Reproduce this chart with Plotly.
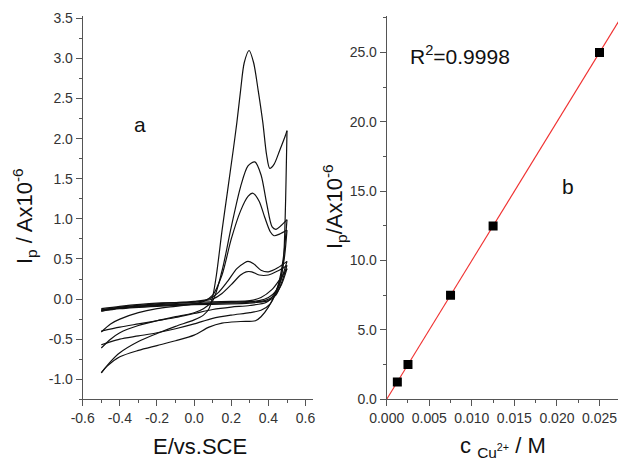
import numpy as np
import plotly.graph_objects as go

# ---------------- Panel a: cyclic voltammograms (E / V, I / uA) ----------------
loop1_fwd = [(-0.5, -0.92), (-0.45, -0.78), (-0.4, -0.67), (-0.3, -0.53), (-0.2, -0.43), (-0.1, -0.34),
             (0.0, -0.26), (0.05, -0.2), (0.08, -0.12), (0.1, 0.03), (0.12, 0.3), (0.15, 0.85), (0.18, 1.35),
             (0.21, 1.85), (0.23, 2.2), (0.25, 2.6), (0.27, 2.95), (0.296, 3.1), (0.32, 2.95), (0.345, 2.6),
             (0.37, 2.2), (0.39, 1.8), (0.407, 1.63), (0.43, 1.68), (0.46, 1.85), (0.49, 2.03), (0.5, 2.1)]
loop1_rev = [(0.5, 2.1), (0.495, 1.5), (0.49, 1.0), (0.48, 0.45), (0.46, 0.18), (0.434, 0.05), (0.4, -0.1),
             (0.36, -0.22), (0.33, -0.27), (0.25, -0.28), (0.15, -0.3), (0.08, -0.35), (0.0, -0.45),
             (-0.1, -0.52), (-0.2, -0.58), (-0.3, -0.64), (-0.4, -0.72), (-0.47, -0.84), (-0.5, -0.92)]

loop2_fwd = [(-0.5, -0.61), (-0.45, -0.5), (-0.4, -0.42), (-0.3, -0.33), (-0.2, -0.27), (-0.1, -0.22),
             (0.0, -0.17), (0.05, -0.12), (0.1, -0.02), (0.15, 0.35), (0.2, 0.9), (0.25, 1.4), (0.29, 1.66),
             (0.327, 1.71), (0.36, 1.55), (0.39, 1.2), (0.42, 0.9), (0.44, 0.87), (0.47, 0.92), (0.5, 0.99)]
loop2_rev = [(0.5, 0.99), (0.485, 0.6), (0.465, 0.3), (0.44, 0.08), (0.41, -0.06), (0.36, -0.14),
             (0.3, -0.17), (0.2, -0.2), (0.1, -0.24), (0.0, -0.31), (-0.1, -0.37), (-0.2, -0.42),
             (-0.3, -0.46), (-0.4, -0.5), (-0.46, -0.54), (-0.5, -0.57)]

loop3_fwd = [(-0.5, -0.41), (-0.45, -0.31), (-0.4, -0.25), (-0.3, -0.17), (-0.2, -0.12), (-0.1, -0.09),
             (0.0, -0.06), (0.05, -0.03), (0.1, 0.05), (0.15, 0.3), (0.2, 0.75), (0.25, 1.1), (0.29, 1.28),
             (0.317, 1.32), (0.35, 1.22), (0.38, 1.02), (0.41, 0.84), (0.43, 0.79), (0.46, 0.81), (0.5, 0.86)]
loop3_rev = [(0.5, 0.86), (0.485, 0.5), (0.46, 0.22), (0.43, 0.06), (0.39, -0.04), (0.3, -0.08),
             (0.2, -0.1), (0.1, -0.13), (0.0, -0.18), (-0.1, -0.23), (-0.2, -0.27), (-0.3, -0.31),
             (-0.4, -0.35), (-0.5, -0.4)]

loop4_fwd = [(-0.5, -0.14), (-0.4, -0.1), (-0.2, -0.06), (0.0, -0.03), (0.08, 0.0), (0.13, 0.08),
             (0.18, 0.22), (0.23, 0.38), (0.27, 0.45), (0.29, 0.47), (0.32, 0.44), (0.36, 0.36),
             (0.4, 0.34), (0.45, 0.39), (0.5, 0.47)]
loop4_rev = [(0.5, 0.47), (0.47, 0.25), (0.44, 0.1), (0.4, 0.02), (0.35, -0.02), (0.3, -0.03),
             (0.2, -0.04), (0.0, -0.06), (-0.2, -0.08), (-0.4, -0.11), (-0.5, -0.14)]

loop5_fwd = [(-0.5, -0.15), (-0.4, -0.11), (-0.2, -0.07), (0.0, -0.04), (0.1, 0.0), (0.15, 0.07),
             (0.2, 0.18), (0.25, 0.3), (0.28, 0.34), (0.31, 0.34), (0.35, 0.3), (0.4, 0.3), (0.45, 0.35),
             (0.5, 0.42)]
loop5_rev = [(0.5, 0.42), (0.47, 0.2), (0.44, 0.05), (0.4, -0.02), (0.35, -0.04), (0.3, -0.05),
             (0.2, -0.06), (0.0, -0.07), (-0.2, -0.09), (-0.4, -0.12), (-0.5, -0.15)]

loop6_fwd = [(-0.5, -0.12), (-0.4, -0.09), (-0.2, -0.05), (0.0, -0.04), (0.2, -0.03), (0.3, -0.02),
             (0.36, 0.02), (0.42, 0.12), (0.46, 0.24), (0.5, 0.38)]
loop6_rev = [(0.5, 0.38), (0.47, 0.18), (0.43, 0.04), (0.38, -0.02), (0.3, -0.04), (0.1, -0.05),
             (-0.1, -0.07), (-0.3, -0.09), (-0.5, -0.13)]

cv_branches = [loop1_fwd, loop1_rev, loop2_fwd, loop2_rev, loop3_fwd, loop3_rev,
               loop4_fwd, loop4_rev, loop5_fwd, loop5_rev, loop6_fwd, loop6_rev]

# ---------------- Panel b: calibration ----------------
conc = [0.00125, 0.0025, 0.0075, 0.0125, 0.025]
peak_current = [1.25, 2.5, 7.5, 12.5, 25.0]
r2_text = "R<sup>2</sup>=0.9998"

left_xticks = [-0.6, -0.4, -0.2, 0.0, 0.2, 0.4, 0.6]
left_yticks = [-1.0, -0.5, 0.0, 0.5, 1.0, 1.5, 2.0, 2.5, 3.0, 3.5]
right_xticks = [0.000, 0.005, 0.010, 0.015, 0.020, 0.025]
right_yticks = [0.0, 5.0, 10.0, 15.0, 20.0, 25.0]

FONT = "Liberation Sans, Arial, sans-serif"
OFF = 8                       # page body margin of the browser
W, H = 626 - 2 * OFF, 464 - OFF  # visible figure area inside the page body


def px(x):   # window pixel -> paper x
    return (x - OFF) / W


def py(y):   # window pixel -> paper y
    return 1 - (y - OFF) / H


fig = go.Figure()
for br in cv_branches:
    fig.add_trace(go.Scatter(x=[p[0] for p in br], y=[p[1] for p in br], mode="lines",
                             line=dict(color="#111111", width=1.2, shape="spline", smoothing=0.8),
                             xaxis="x", yaxis="y", showlegend=False, hoverinfo="skip"))

slope, intercept = np.polyfit(conc, peak_current, 1)
fit_x = np.array([0.0, 0.03])
fig.add_trace(go.Scatter(x=fit_x, y=slope * fit_x + intercept, mode="lines",
                         line=dict(color="#f03030", width=1.1), xaxis="x2", yaxis="y2", showlegend=False))
fig.add_trace(go.Scatter(x=conc, y=peak_current, mode="markers",
                         marker=dict(symbol="square", size=9, color="black"),
                         xaxis="x2", yaxis="y2", showlegend=False))

axis_common = dict(showgrid=False, zeroline=False, showline=True, linecolor="#555555", linewidth=1,
                   ticks="outside", ticklen=6, tickcolor="#555555", tickwidth=1, automargin=False,
                   ticklabeloverflow="allow",
                   tickfont=dict(family=FONT, size=14, color="#333333"), mirror=False)


def fmt(vals, spec):
    return [format(v, spec) for v in vals]


bottom = py(399.3)
top = py(16)
x2_end = 0.025 * (OFF + W - 386.7) / (599.5 - 386.7)

fig.update_layout(
    width=W, height=H, margin=dict(l=0, r=0, t=0, b=0, autoexpand=False),
    paper_bgcolor="white", plot_bgcolor="white", showlegend=False,
    xaxis=dict(**axis_common, domain=[px(82.7), px(313)], range=[-0.6, 0.64], anchor="y",
               tickvals=left_xticks, ticktext=fmt(left_xticks, ".1f"),
               minor=dict(dtick=0.1, ticks="outside", ticklen=3, tickcolor="#555555")),
    yaxis=dict(**axis_common, domain=[bottom, top], range=[-1.25, 3.53], anchor="x",
               tickvals=left_yticks, ticktext=fmt(left_yticks, ".1f"),
               minor=dict(dtick=0.25, tick0=0, ticks="outside", ticklen=3, tickcolor="#555555")),
    xaxis2=dict(**axis_common, domain=[px(386.7), 1.0], range=[0, x2_end],
                anchor="y2", tickvals=right_xticks, ticktext=fmt(right_xticks, ".3f"),
                minor=dict(dtick=0.0025, ticks="outside", ticklen=3, tickcolor="#555555")),
    yaxis2=dict(**axis_common, domain=[bottom, top], range=[0, 27.63], anchor="x2",
                tickvals=right_yticks, ticktext=fmt(right_yticks, ".1f"),
                minor=dict(dtick=2.5, ticks="outside", ticklen=3, tickcolor="#555555")),
)


def ann(text, x, y, size, rot=0):
    fig.add_annotation(text=text, x=px(x), y=py(y), xref="paper", yref="paper",
                       showarrow=False, textangle=rot, xanchor="center", yanchor="middle",
                       font=dict(family=FONT, size=size, color="#111111"))


ann("E/vs.SCE", 200, 446, 22)
ann("I<sub>p</sub> / Ax10<sup>-6</sup>", 24, 216, 22, -90)
ann("I<sub>p</sub>/Ax10<sup>-6</sup>", 334, 207, 22, -90)
ann("c <sub>Cu<sup>2+</sup></sub> / M", 503, 447, 22)
ann("a", 140, 124, 21)
ann("b", 568, 186, 21)
ann(r2_text, 460, 55, 21)

fig.write_html("out.html")
